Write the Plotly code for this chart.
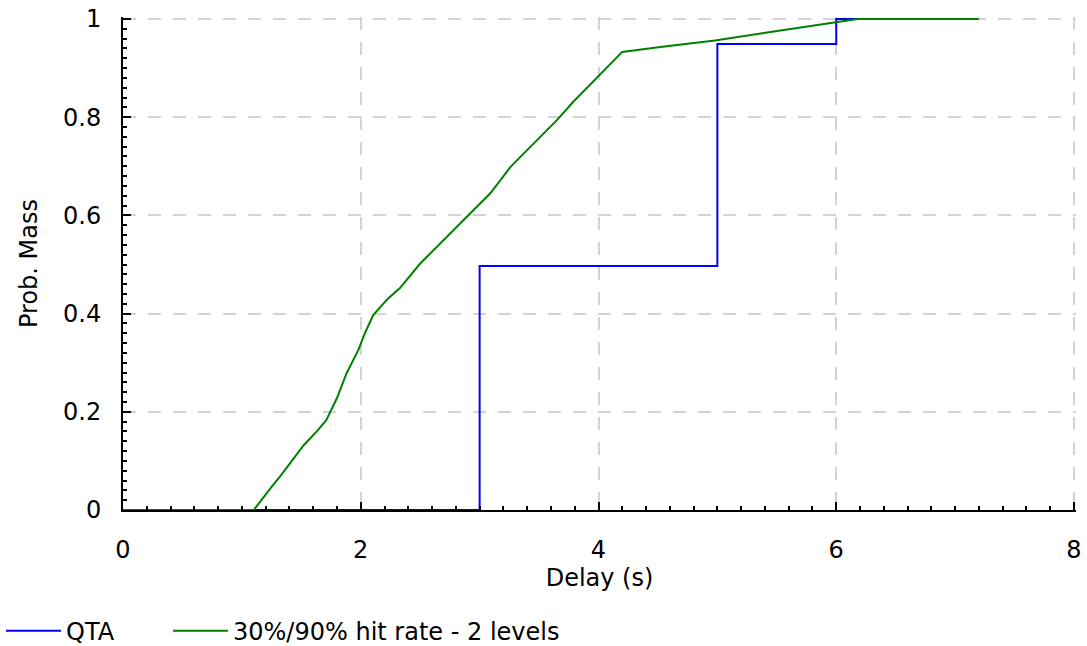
import plotly.graph_objects as go

# QTA step CDF
qta_x = [0, 3, 5, 6, 6.2]
qta_y = [0, 0.497, 0.949, 1.0, 1.0]

# 30%/90% hit rate - 2 levels
hit_x = [0, 1.10, 1.25, 1.33, 1.52, 1.63, 1.71, 1.80, 1.88, 1.98, 2.035, 2.105,
         2.23, 2.33, 2.50, 2.92, 3.09, 3.26, 3.40, 3.65, 3.79, 3.98, 4.08, 4.20,
         4.52, 4.98, 5.46, 5.99, 6.18, 7.20]
hit_y = [0, 0, 0.047, 0.071, 0.132, 0.160, 0.183, 0.228, 0.278, 0.326, 0.360, 0.397,
         0.431, 0.452, 0.502, 0.604, 0.645, 0.699, 0.733, 0.794, 0.832, 0.879, 0.903, 0.933,
         0.943, 0.956, 0.974, 0.994, 1.0, 1.0]

x_ticks = [0, 2, 4, 6, 8]
y_ticks = [0, 0.2, 0.4, 0.6, 0.8, 1]
y_tick_labels = ["0", "0.2", "0.4", "0.6", "0.8", "1"]

# plot area: x 0..8 spans 951 px, y 0..1 spans 491 px; ranges padded by 2 px
# so that the grid lines at x=8 and y=1 are not clipped at the plot edges
X_PAD = 8 * 2 / 951
Y_PAD = 2 / 491

fig = go.Figure()
fig.add_trace(go.Scatter(x=qta_x, y=qta_y, mode="lines", name="QTA", legendwidth=97,
                         line=dict(color="#0000ff", width=2, shape="hv")))
fig.add_trace(go.Scatter(x=hit_x, y=hit_y, mode="lines", name="30%/90% hit rate - 2 levels",
                         line=dict(color="#008000", width=2)))

font = dict(family="DejaVu Sans", size=24, color="black")
fig.update_layout(
    width=1087, height=646,
    margin=dict(l=123, r=11, t=17, b=136, autoexpand=False),
    paper_bgcolor="white", plot_bgcolor="white",
    font=font,
    showlegend=True,
    legend=dict(orientation="h", x=-0.128, xanchor="left", y=-0.2, yanchor="top",
                font=font, itemwidth=55, bgcolor="rgba(0,0,0,0)"),
)
grid = dict(showgrid=True, gridcolor="#d3d3d3", gridwidth=2, griddash="13px,12px")
fig.update_xaxes(
    range=[0, 8 + X_PAD], tickvals=x_ticks, ticktext=[str(v) for v in x_ticks],
    showline=True, linecolor="black", linewidth=2,
    ticks="inside", ticklen=8, tickwidth=2, tickcolor="black",
    minor=dict(dtick=0.2, ticks="inside", ticklen=4, tickwidth=2, tickcolor="black", showgrid=False),
    zeroline=False, automargin=False,
    ticklabelstandoff=17,
    title=dict(text="Delay (s)", font=font, standoff=6),
    tickfont=font, **grid,
)
fig.update_yaxes(
    range=[0, 1 + Y_PAD], tickvals=y_ticks, ticktext=y_tick_labels,
    showline=True, linecolor="black", linewidth=2,
    ticks="inside", ticklen=8, tickwidth=2, tickcolor="black",
    minor=dict(dtick=0.02, ticks="inside", ticklen=4, tickwidth=2, tickcolor="black", showgrid=False),
    zeroline=False, automargin=False,
    ticklabelstandoff=15,
    title=dict(text="Prob. Mass", font=font, standoff=19),
    tickfont=font, **grid,
)
fig.write_html("out.html", config={"displayModeBar": False},
               post_script="document.body.style.margin='0';")
